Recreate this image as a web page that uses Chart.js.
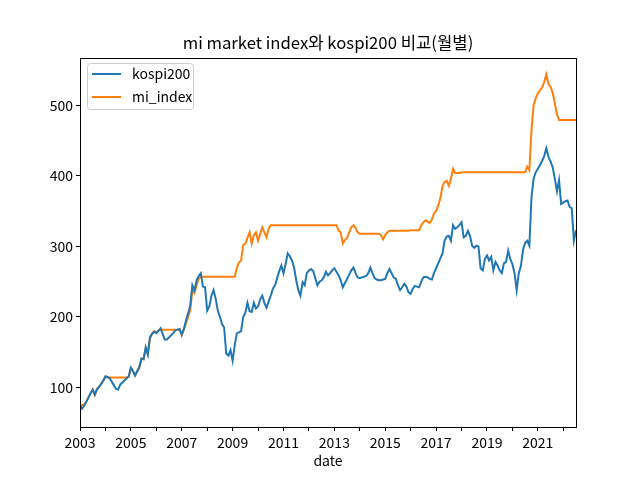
<!DOCTYPE html>
<html>
<head>
<meta charset="utf-8">
<script src="https://cdn.jsdelivr.net/npm/chart.js@4.4.1/dist/chart.umd.min.js"></script>
<style>
  html, body { margin: 0; padding: 0; background: #fff; }
  #wrap { width: 640px; height: 479px; }
</style>
</head>
<body>
<div id="wrap"><canvas id="chart" width="640" height="479"></canvas></div>
<script>
// monthly values, 2003-01 .. 2022-07
const startYear = 2003;
const kospi200 = [
  75, 70, 74, 80, 86, 92, 97, 90, 97, 101, 105, 110,          // 2003
  116, 115, 113, 108, 103, 98, 97, 104, 107, 110, 113, 116,   // 2004
  128, 123, 117, 123, 129, 141, 140, 157, 147, 171, 176, 179, // 2005
  177, 180, 184, 176, 168, 168, 171, 174, 177, 181, 182, 183, // 2006
  175, 183, 195, 205, 216, 245, 238, 252, 258, 262, 243, 242, // 2007
  209, 215, 230, 238, 226, 209, 200, 190, 185, 148, 145, 153, // 2008
  138, 160, 177, 178, 180, 200, 206, 220, 208, 207, 220, 212, // 2009
  215, 225, 230, 220, 213, 222, 230, 240, 245, 255, 265, 273, // 2010
  262, 275, 290, 286, 280, 270, 252, 238, 230, 249, 245, 262, // 2011
  266, 268, 265, 255, 245, 250, 252, 256, 264, 259, 262, 266, // 2012
  269, 264, 259, 252, 242, 248, 254, 260, 266, 270, 262, 256, // 2013
  255, 256, 257, 258, 262, 270, 262, 255, 253, 252, 252, 253, // 2014
  254, 262, 268, 262, 256, 254, 245, 238, 242, 247, 243, 235, // 2015
  233, 240, 244, 243, 242, 250, 256, 257, 256, 254, 253, 262, // 2016
  269, 276, 283, 290, 308, 314, 315, 308, 330, 325, 327, 330, // 2017
  334, 313, 315, 322, 315, 301, 298, 301, 300, 269, 266, 282, // 2018
  287, 280, 285, 266, 278, 273, 266, 262, 276, 278, 294, 282, // 2019
  275, 262, 238, 262, 272, 295, 305, 308, 301, 370, 396, 405, // 2020
  410, 415, 421, 428, 439, 427, 420, 412, 396, 378, 394, 360, // 2021
  362, 364, 365, 356, 354, 308, 323                           // 2022
];
const miIndex = [
  75, 75, 76, 80, 86, 92, 97, 89, 98, 101, 105, 110,          // 2003
  115, 114, 114, 114, 114, 114, 114, 114, 114, 114, 114, 115, // 2004
  128, 123, 117, 123, 129, 141, 140, 156, 147, 170, 176, 180, // 2005
  178, 181, 182, 182, 182, 182, 182, 182, 182, 182, 182, 182, // 2006
  174, 182, 191, 200, 209, 238, 234, 245, 254, 257, 257, 257, // 2007
  257, 257, 257, 257, 257, 257, 257, 257, 257, 257, 257, 257, // 2008
  257, 257, 270, 277, 280, 302, 304, 312, 320, 304, 316, 320, // 2009
  308, 318, 327, 320, 313, 325, 330, 330, 330, 330, 330, 330, // 2010
  330, 330, 330, 330, 330, 330, 330, 330, 330, 330, 330, 330, // 2011
  330, 330, 330, 330, 330, 330, 330, 330, 330, 330, 330, 330, // 2012
  330, 330, 322, 320, 304, 309, 312, 320, 327, 330, 326, 320, // 2013
  318, 318, 318, 318, 318, 318, 318, 318, 318, 318, 316, 310, // 2014
  316, 320, 322, 322, 322, 322, 322, 322, 322, 322, 322, 322, // 2015
  323, 323, 323, 323, 323, 330, 334, 337, 335, 333, 338, 347, // 2016
  350, 358, 368, 385, 391, 393, 386, 396, 410, 404, 404, 404, // 2017
  405, 405, 405, 405, 405, 405, 405, 405, 405, 405, 405, 405, // 2018
  405, 405, 405, 405, 405, 405, 405, 405, 405, 405, 405, 405, // 2019
  405, 405, 405, 405, 405, 405, 405, 413, 408, 465, 500, 510, // 2020
  517, 521, 525, 533, 544, 530, 526, 518, 503, 487, 479, 479, // 2021
  479, 479, 479, 479, 479, 479, 479                           // 2022
];
const seriesNames = ['kospi200', 'mi_index'];
const titleText = 'mi market index와 kospi200 비교(월별)';
const xTitle = 'date';

const FONT = "'Noto Sans CJK KR', 'Noto Sans', sans-serif";
const blue = '#1f77b4';
const orange = '#ff7f0e';

function toPoints(arr) {
    return arr.map((v, i) => ({ x: startYear + i / 12, y: v }));
}

// matplotlib-like box around the axes, title centred over the axes
const spines = {
    id: 'spines',
    afterDatasetsDraw(chart) {
        const { ctx, chartArea: a } = chart;
        ctx.save();
        ctx.strokeStyle = '#000';
        ctx.lineWidth = 1;
        ctx.strokeRect(Math.round(a.left) + 0.5, Math.round(a.top) + 0.5,
            Math.round(a.right - a.left), Math.round(a.bottom - a.top));
        ctx.fillStyle = '#000';
        ctx.font = '16.7px ' + FONT;
        ctx.textAlign = 'center';
        ctx.textBaseline = 'middle';
        ctx.fillText(titleText, (a.left + a.right) / 2, a.top - 15);
        ctx.restore();
    }
};

// legend drawn inside the axes, upper left
const innerLegend = {
    id: 'innerLegend',
    afterDraw(chart) {
        const { ctx, chartArea: a } = chart;
        const x = a.left + 7, y = a.top + 5, w = 106, h = 46;
        ctx.save();
        ctx.fillStyle = 'rgba(255,255,255,0.8)';
        ctx.strokeStyle = '#cccccc';
        ctx.lineWidth = 1;
        ctx.beginPath();
        ctx.roundRect(x + 0.5, y + 0.5, w, h, 3);
        ctx.fill();
        ctx.stroke();
        ctx.font = '14px ' + FONT;
        ctx.textBaseline = 'middle';
        chart.data.datasets.forEach((ds, i) => {
            const ly = y + 11 + i * 23;
            ctx.strokeStyle = ds.borderColor;
            ctx.lineWidth = 2;
            ctx.beginPath();
            ctx.moveTo(x + 5, ly);
            ctx.lineTo(x + 34, ly);
            ctx.stroke();
            ctx.fillStyle = '#000';
            ctx.fillText(ds.label, x + 45, ly);
        });
        ctx.restore();
    }
};

const ctx = document.getElementById('chart').getContext('2d');
new Chart(ctx, {
    type: 'line',
    data: {
        datasets: [
            { label: seriesNames[0], data: toPoints(kospi200), borderColor: blue, backgroundColor: blue },
            { label: seriesNames[1], data: toPoints(miIndex), borderColor: orange, backgroundColor: orange }
        ]
    },
    options: {
        responsive: false,
        animation: false,
        devicePixelRatio: 1,
        parsing: false,
        layout: { padding: { left: 0, right: 64, top: 58, bottom: 0 } },
        elements: {
            point: { radius: 0 },
            line: { borderWidth: 2, tension: 0 }
        },
        scales: {
            x: {
                type: 'linear',
                min: startYear,
                max: startYear + (kospi200.length - 1) / 12,
                afterFit(scale) { scale.height = 52; },
                border: { display: false },
                grid: { drawOnChartArea: false, drawTicks: true, tickLength: 4, color: '#000' },
                ticks: {
                    stepSize: 1,
                    includeBounds: false,
                    autoSkip: false,
                    maxRotation: 0,
                    padding: 3,
                    color: '#000',
                    font: { family: FONT, size: 14 },
                    callback: v => ((v - startYear) % 2 === 0 ? String(v) : '')
                },
                title: {
                    display: true,
                    text: xTitle,
                    color: '#000',
                    font: { family: FONT, size: 14 },
                    padding: { top: 0, bottom: 10 }
                }
            },
            y: {
                min: 44,
                max: 567,
                afterFit(scale) { scale.width = 80; },
                border: { display: false },
                grid: { drawOnChartArea: false, drawTicks: true, tickLength: 4, color: '#000' },
                ticks: {
                    stepSize: 100,
                    includeBounds: false,
                    padding: 3,
                    color: '#000',
                    font: { family: FONT, size: 14 }
                }
            }
        },
        plugins: {
            legend: { display: false },
            tooltip: { enabled: false },
            title: { display: false }
        }
    },
    plugins: [spines, innerLegend]
});
</script>
</body>
</html>
